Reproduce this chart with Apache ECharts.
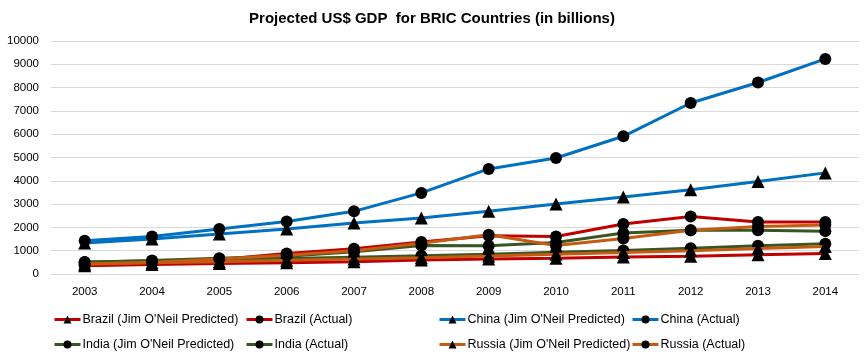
<!DOCTYPE html>
<html>
<head>
<meta charset="utf-8">
<script src="https://cdn.jsdelivr.net/npm/echarts@6/dist/echarts.min.js"></script>
<style>
html,body{margin:0;padding:0;background:#fff;}
#chart{width:864px;height:353px;}
</style>
</head>
<body>
<div id="chart"></div>
<script>
var years = ['2003','2004','2005','2006','2007','2008','2009','2010','2011','2012','2013','2014'];
var brazilPred   = [350, 410, 450, 480, 530, 600, 640, 680, 730, 760, 830, 880];
var brazilActual = [380, 480, 620, 880, 1080, 1370, 1640, 1610, 2150, 2470, 2230, 2230];
var chinaPred    = [1330, 1500, 1720, 1930, 2190, 2400, 2690, 3000, 3300, 3620, 3970, 4340];
var chinaActual  = [1430, 1610, 1930, 2250, 2690, 3480, 4510, 4980, 5910, 7340, 8220, 9230];
var indiaPred    = [520, 560, 610, 660, 720, 780, 850, 930, 1010, 1110, 1210, 1300];
var indiaActual  = [500, 580, 680, 760, 950, 1220, 1210, 1350, 1760, 1880, 1880, 1840];
var russiaPred   = [430, 480, 530, 590, 640, 700, 770, 850, 920, 1000, 1090, 1180];
var russiaActual = [430, 500, 640, 800, 1000, 1320, 1680, 1220, 1520, 1880, 2040, 2100];

var seriesNames = [
  'Brazil (Jim O\'Neil Predicted)', 'Brazil (Actual)',
  'China (Jim O\'Neil Predicted)', 'China (Actual)',
  'India (Jim O\'Neil Predicted)', 'India (Actual)',
  'Russia (Jim O\'Neil Predicted)', 'Russia (Actual)'
];
var seriesData = [brazilPred, brazilActual, chinaPred, chinaActual, indiaPred, indiaActual, russiaPred, russiaActual];
var seriesColors = ['#C00000','#C00000','#0070C0','#0070C0','#375623','#375623','#C55A11','#C55A11'];
var seriesSymbols = ['triangle','circle','triangle','circle','circle','circle','triangle','circle'];

var FONT = '"Liberation Sans", Arial, sans-serif';

var series = seriesNames.map(function(n, i){
  return {
    name: n,
    type: 'line',
    data: seriesData[i],
    symbol: seriesSymbols[i],
    symbolSize: seriesSymbols[i] === 'circle' ? 12 : 13,
    lineStyle: {color: seriesColors[i], width: 3},
    itemStyle: {color: '#000', borderWidth: 0},
    color: seriesColors[i],
    emphasis: {disabled: true},
    z: 2 + i
  };
});

var legendPos = [
  [53, 313], [245, 313], [438, 313], [631, 313],
  [53, 338], [245, 338], [438, 338], [631, 338]
];
var legends = seriesNames.map(function(n, k){
  return {
    data: [{name: n, itemStyle: {color: '#000'}, lineStyle: {color: seriesColors[k], width: 3}}],
    left: legendPos[k][0],
    top: legendPos[k][1],
    itemWidth: 26,
    itemHeight: 10,
    itemGap: 0,
    padding: 0,
    selectedMode: false,
    textStyle: {fontFamily: FONT, fontSize: 12.5, color: '#000', padding: [0,0,0,-3]}
  };
});

var chart = echarts.init(document.getElementById('chart'), null, {renderer: 'canvas'});
chart.setOption({
  animation: false,
  backgroundColor: '#fff',
  title: {
    text: 'Projected US$ GDP  for BRIC Countries (in billions)',
    left: 'center',
    top: 6,
    textStyle: {fontFamily: FONT, fontSize: 15, fontWeight: 'bold', color: '#000'}
  },
  legend: legends,
  grid: {left: 51, right: 5, top: 41, bottom: 79, containLabel: false},
  xAxis: {
    type: 'category',
    data: years,
    boundaryGap: true,
    axisLine: {show: true, lineStyle: {color: '#d9d9d9', width: 1}},
    axisTick: {show: false},
    axisLabel: {fontFamily: FONT, fontSize: 11.5, color: '#000', margin: 12}
  },
  yAxis: {
    type: 'value',
    min: 0,
    max: 10000,
    interval: 1000,
    axisLine: {show: false},
    axisTick: {show: false},
    splitLine: {lineStyle: {color: '#d9d9d9', width: 1}},
    axisLabel: {fontFamily: FONT, fontSize: 11.5, color: '#000', margin: 12,
      formatter: function(v){ return String(v); }}
  },
  series: series
});
</script>
</body>
</html>
